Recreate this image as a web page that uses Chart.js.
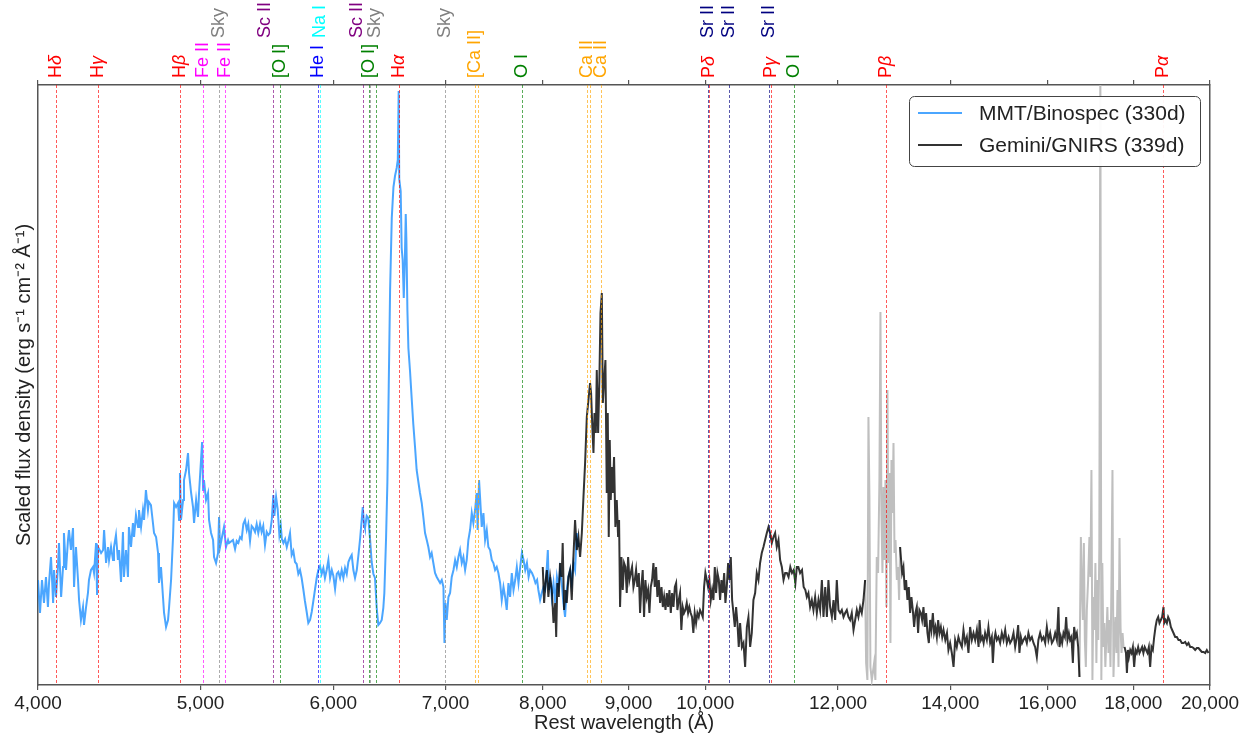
<!DOCTYPE html>
<html>
<head>
<meta charset="utf-8">
<title>Spectrum 330d / 339d</title>
<script src="https://cdn.jsdelivr.net/npm/chart.js"></script>
<style>
  body { margin: 0; background: #fff; }
  canvas { display: block; }
</style>
</head>
<body>
<canvas id="chart" width="1253" height="742"></canvas>
<script>
// MMT/Binospec (330d), rest wavelength in A, scaled flux (arbitrary units)
var binospecWave = [
  4000,4011,4022,4033,4044,4055,4061,4072,4084,4089,
  4100,4111,4117,4129,4140,4145,4157,4168,4174,4185,
  4197,4203,4214,4226,4232,4243,4255,4261,4273,4284,
  4290,4302,4314,4320,4332,4338,4344,4362,4374,4380,
  4392,4404,4410,4422,4434,4440,4452,4464,4471,4483,
  4495,4501,4514,4526,4532,4545,4557,4564,4576,4589,
  4595,4608,4620,4627,4639,4652,4658,4671,4684,4691,
  4704,4717,4723,4736,4749,4756,4769,4782,4789,4802,
  4815,4822,4835,4848,4855,4861,4868,4882,4888,4902,
  4915,4922,4936,4949,4956,4970,4983,4990,5011,5018,
  5024,5038,5052,5059,5073,5087,5094,5108,5122,5129,
  5136,5150,5164,5178,5193,5200,5228,
  5243,5255,5267,5279,5291,5303,5315,5328,5339,5352,
  5364,5376,5389,5401,5413,5426,5438,5450,5463,5476,
  5488,5501,5514,5526,5534,5547,5559,5572,5583,5591,
  5603,5616,5629,5641,5654,5667,5680,5693,5706,5719,
  5732,5745,5758,5771,5785,5798,5812,5825,5838,5852,
  5865,5878,5892,5905,5919,5932,5946,5960,5974,5988,
  6001,6015,6029,6042,6056,6070,6084,6098,6112,6126,
  6140,6154,6168,6182,6197,6211,6225,6239,6248,6259,
  6267,6282,6296,6311,6325,6340,6354,6369,6383,6398,
  6413,6427,6436,6451,6463,6475,6487,6502,6517,6531,
  6546,6556,6564,6569,6582,6591,6600,6610,6619,6628,
  6634,6643,6652,6667,6682,6697,6713,6728,6744,6759,
  6775,6790,6806,6822,6837,6853,6868,6884,6900,6916,
  6932,6948,6964,6980,6990,6999,7012,7028,7044,7060,
  7077,7093,7109,7125,7141,7158,7174,7191,7207,7223,
  7240,7257,7273,7290,7306,7316,7330,7340,7357,7374,
  7391,7408,7424,7442,7459,7476,7493,7510,7527,7545,
  7562,7580,7597,7614,7632,7649,7667,7685,7703,7720,
  7738,7756,7774,7792,7810,7828,7846,7862,7883,7901,
  7920,7938,7952,7971,7989,8008,8026,8045,8056,8067,
  8082,8100,8119,8138,8157,8174,8192,8211,8230,8249,
  8268,8287,8306,8325,8344,8363,8383,8402
];
var binospecFlux = [
  1.05,0.72,1.05,0.82,1.08,0.78,1.02,1.28,0.82,1.15,
  0.88,1.18,1.42,0.88,1.18,1.52,1.15,1.45,1.55,1.35,
  1.57,0.98,1.38,1.05,0.85,0.65,0.78,0.60,0.78,0.92,
  1.05,1.15,1.18,1.12,1.42,0.90,1.38,1.32,1.35,1.55,
  1.22,1.38,1.25,1.38,1.25,1.38,1.50,1.25,1.35,1.03,
  1.53,1.08,1.35,1.08,1.58,1.38,1.62,1.48,1.70,1.58,
  1.75,1.58,1.75,1.65,1.95,1.75,1.83,1.80,1.62,1.52,
  1.48,1.32,1.02,1.18,0.88,0.72,0.58,0.65,0.78,1.05,
  1.48,1.82,1.78,1.82,1.65,2.12,1.65,1.85,2.05,2.15,
  2.32,2.12,1.92,1.78,1.62,1.85,1.68,1.92,2.43,1.95,
  2.05,1.85,1.92,1.65,1.52,1.45,1.28,1.22,1.32,1.68,
  1.38,1.48,1.58,1.38,1.45,1.42,1.45,
  1.36,1.44,1.42,1.48,1.46,1.61,1.65,1.55,1.61,1.44,
  1.59,1.57,1.53,1.61,1.52,1.61,1.53,1.59,1.40,1.53,
  1.50,1.52,1.65,1.90,1.69,1.88,1.76,1.50,1.59,1.46,
  1.42,1.46,1.38,1.44,1.52,1.30,1.34,1.23,1.21,1.11,
  1.15,1.07,0.96,0.84,0.73,0.62,0.65,0.73,0.84,0.96,
  1.07,1.15,1.19,1.11,1.17,1.07,1.15,1.25,1.07,1.15,
  1.09,0.96,1.11,1.13,1.07,1.15,1.07,1.17,1.11,1.23,
  1.27,1.30,1.15,1.07,1.15,1.30,1.46,1.65,1.78,1.61,
  1.57,1.69,1.67,1.46,1.23,1.11,1.07,0.77,0.60,0.62,
  0.65,0.77,0.92,1.46,2.03,2.99,3.95,4.67,4.98,5.09,
  5.17,5.25,5.94,5.06,4.94,4.37,4.25,3.87,4.21,4.71,
  4.44,3.75,3.37,3.14,2.87,2.61,2.38,2.15,2.03,1.92,
  1.82,1.68,1.52,1.45,1.38,1.28,1.32,1.22,1.12,1.08,
  1.05,1.02,1.05,0.98,0.42,0.82,0.65,0.88,0.92,1.08,
  1.15,1.25,1.18,1.28,1.35,1.22,1.28,1.15,1.25,1.45,
  1.55,1.72,1.62,1.75,1.92,1.55,2.05,1.88,1.58,1.72,
  1.45,1.55,1.38,1.35,1.25,1.22,1.15,1.18,1.12,1.02,
  0.85,0.98,0.88,0.75,1.02,0.88,1.12,0.95,1.05,1.18,
  1.02,1.18,1.32,1.25,1.15,1.22,1.08,1.15,1.12,1.08,
  1.02,1.05,0.95,0.85,0.92,0.98,0.95,1.18,1.35,0.95,
  1.08,0.88,1.02,0.82,1.08,0.98,1.15,1.02,0.82,0.68,
  0.95,1.08,1.15,1.02,1.22,1.15,1.52,1.38
];

// Gemini/GNIRS (339d); null marks the telluric gaps shown in grey
var gnirsWave = [
  8000,8015,8029,8045,8062,8082,8100,8119,8138,8149,
  8162,8178,8192,8211,8222,8238,8253,8268,8287,8306,
  8325,8344,8363,8383,8402,8421,8441,8460,8479,8499,
  8518,8537,
  8549,8565,8577,8589,8605,8616,8632,8647,8660,8676,
  8688,8704,8719,8735,8747,8759,8771,8783,8795,8807,
  8823,8839,8856,8872,8884,8896,8913,8929,8945,8962,
  8978,8995,9011,9028,9044,9061,9078,9094,9110,9128,
  9144,9160,9177,9194,9211,9228,9245,9262,9279,9296,
  9313,9330,9347,9364,9382,9399,9417,9434,9451,9469,
  9486,9503,9520,9538,9555,9573,9591,9608,9625,9643,
  9660,9677,9695,9713,9731,9749,9767,9784,9802,9820,
  9838,9856,9875,9893,9911,9929,9947,9966,9984,10002,
  10021,10039,10057,10076,10095,10113,10132,10150,10169,10188,
  10206,10225,10244,10263,10281,10300,10319,10338,10357,10376,
  10395,10414,10433,10452,10471,
  10490,10516,10539,10563,10588,10611,10636,10660,10684,10709,
  10733,10758,10782,10807,10832,10857,10882,10907,10931,10957,
  10982,11007,11032,11058,11083,11109,11135,11160,11186,11212,
  11239,11265,11291,11318,11340,11364,11391,11421,11447,11474,
  11497,11522,11549,11576,11602,11629,11656,11682,11709,11737,
  11763,11791,11818,11843,11870,11899,11926,11953,11980,12007,
  12035,12063,12091,12118,12146,12173,12201,12229,12258,12286,
  12314,12341,12370,12398,12427,12455,
  12760,
  13068,13104,13128,13152,13176,13200,13225,13249,13273,13298,
  13322,13346,13371,13395,13419,13445,13469,13494,13519,13543,
  13568,13594,13618,13643,13669,13693,13718,13744,13769,13794,
  13820,13846,13871,13905,13937,13965,13997,
  14030,14063,14094,14126,14158,14191,14224,14256,14289,14322,
  14354,14387,14421,14454,14487,14521,14555,14575,14603,14630,
  14656,14686,14721,14753,14788,14822,14843,14870,14896,14924,
  14957,14992,15027,15062,15097,15131,15167,15200,15235,15270,
  15305,15340,15368,15395,15425,15452,15480,15516,15552,15586,
  15623,15660,15695,15731,15767,15801,15839,15876,15912,15949,
  15985,16021,16058,16096,16133,16169,16207,16242,16265,16296,
  16325,16355,16386,16415,16445,16476,16505,16535,16567,16596,
  16626,16657,16688,16718,
  17250,
  17786,17820,17844,17869,17893,17925,17957,17990,18022,18055,
  18087,18121,18154,18187,18220,18252,18285,18320,18354,18389,
  18422,18456,18490,18524,18558,18591,18626,18659,18694,18728,
  18763,18780,18814,18850,18883,18917,18953,18987,19022,19066,
  19110,19153,19197,19241,19285,19329,19375,19418,19463,19507,
  19551,19597,19642,19686,19731,19777,19822,19868,19913,19958
];
var gnirsFlux = [
  1.18,0.82,1.02,1.15,0.88,1.08,0.95,0.62,0.82,0.48,
  1.02,0.88,1.22,1.08,1.42,0.75,0.95,0.82,1.08,1.15,
  0.85,1.28,1.65,1.35,1.48,1.28,1.52,1.88,2.22,2.68,
  2.85,3.02,
  2.92,2.55,2.32,2.72,2.52,3.15,2.52,3.05,3.72,3.92,
  2.82,3.05,3.25,1.92,2.72,1.48,2.45,1.85,2.18,1.92,
  2.28,1.58,1.85,1.48,1.65,0.78,1.28,0.95,1.22,1.18,
  0.92,1.28,1.05,1.12,1.18,0.98,1.05,1.15,0.98,1.12,
  0.72,0.98,1.15,0.68,1.05,0.88,0.95,0.72,0.98,1.05,
  1.22,0.98,1.18,0.88,1.05,0.82,0.98,0.78,0.88,0.75,
  0.92,0.78,0.95,0.72,0.92,0.78,0.98,1.02,0.75,0.85,
  0.92,0.55,0.78,0.72,0.75,0.82,0.72,0.78,0.72,0.68,
  0.52,0.72,0.62,0.72,0.68,0.75,0.72,0.68,0.98,1.12,
  1.05,0.98,1.05,0.85,0.95,0.85,1.18,0.92,1.12,1.05,
  0.85,1.05,0.92,1.12,0.82,0.98,1.22,1.05,1.28,0.85,
  0.72,0.58,0.78,0.62,0.38,
  0.62,0.38,0.42,0.18,0.58,0.68,0.38,0.52,0.85,0.92,
  1.12,1.05,1.22,1.32,1.38,1.45,1.52,1.58,1.52,1.42,
  1.48,1.52,1.38,1.45,1.25,1.18,1.05,1.12,1.12,1.08,
  1.18,1.12,1.15,1.02,1.18,1.18,1.12,1.15,0.98,0.95,
  0.88,0.92,0.78,0.85,0.75,0.88,0.72,0.85,0.75,1.05,
  0.68,0.98,0.68,1.05,0.78,0.68,0.85,0.65,1.05,0.75,
  0.72,0.75,0.68,0.72,0.75,0.68,0.65,0.72,0.55,0.65,
  0.75,0.68,0.78,0.72,0.85,1.05,
  null,
  1.38,1.12,1.18,0.95,1.05,0.85,0.98,0.72,0.88,0.75,
  0.58,0.72,0.78,0.52,0.75,0.72,0.65,0.78,0.58,0.72,
  0.52,0.42,0.65,0.55,0.72,0.52,0.58,0.48,0.65,0.52,
  0.58,0.48,0.55,0.45,0.52,0.35,0.42,
  0.32,0.18,0.45,0.38,0.48,0.42,0.38,0.55,0.42,0.48,
  0.32,0.58,0.45,0.52,0.45,0.55,0.38,0.65,0.45,0.48,
  0.42,0.52,0.45,0.58,0.42,0.48,0.22,0.45,0.52,0.45,
  0.48,0.42,0.52,0.45,0.55,0.42,0.48,0.42,0.45,0.52,
  0.38,0.48,0.60,0.32,0.48,0.42,0.45,0.48,0.42,0.52,
  0.45,0.48,0.42,0.38,0.28,0.45,0.52,0.45,0.48,0.42,
  0.58,0.45,0.52,0.42,0.45,0.52,0.45,0.78,0.38,0.48,
  0.42,0.52,0.48,0.68,0.45,0.52,0.45,0.48,0.22,0.58,
  0.48,0.52,0.38,0.08,
  null,
  0.38,0.32,0.12,0.35,0.28,0.35,0.32,0.38,0.18,0.35,
  0.32,0.38,0.32,0.35,0.38,0.32,0.38,0.35,0.32,0.38,
  0.18,0.38,0.35,0.48,0.58,0.65,0.68,0.62,0.65,0.68,
  0.78,0.62,0.65,0.62,0.68,0.65,0.58,0.55,0.52,0.48,
  0.48,0.45,0.45,0.42,0.42,0.43,0.40,0.42,0.38,0.38,
  0.37,0.35,0.37,0.37,0.35,0.33,0.33,0.32,0.35,0.32
];

// GNIRS points inside strong telluric bands (drawn grey)
var telluricWave = [
  12455,12472,12494,12512,12529,12546,12570,12587,12610,12632,
  12656,12679,12702,12720,12737,12755,12772,12790,12808,12825,
  12843,12861,12878,12896,12914,12932,12950,12968,12986,13010,
  13032,13050,13068,
  15000,
  16718,16750,16773,16796,16819,16842,16865,16888,16918,16948,
  16971,16995,17018,17041,17064,17088,17111,17135,17156,17180,
  17204,17228,17251,17275,17299,17323,17347,17371,17397,17421,
  17445,17469,17493,17517,17541,17565,17590,17614,17638,17663,
  17688,17712,17737,17761,17786
];
var telluricFlux = [
  1.05,0.22,0.05,2.68,1.88,0.18,0.05,0.12,0.22,0.05,
  1.28,1.12,2.05,3.73,1.72,1.12,1.98,1.25,2.05,0.78,
  2.95,1.22,2.12,0.42,2.25,1.72,2.42,1.32,1.45,1.05,
  1.18,0.85,1.38,
  null,
  0.08,1.48,0.98,0.65,1.42,0.45,0.18,0.75,1.05,1.48,
  1.08,2.15,0.05,0.88,0.55,1.22,0.22,1.05,0.45,1.38,
  6.30,0.05,1.22,0.38,0.62,0.18,0.48,0.78,0.32,0.65,
  0.18,1.05,2.15,0.08,0.45,0.68,0.32,0.95,0.18,1.47,
  0.58,0.32,0.52,0.38,0.38
];

var tickValues = [4000,5000,6000,7000,8000,9000,10000,12000,14000,16000,18000,20000];

// line identifications
var lineWaves  = [4102,4341,4861,5018,5129,5169,5527,5577,5876,5892,6246,6300,6310,6364,6563,6995,7291,7324,7774,8498,8542,8662,10037,10049,10327,10915,10938,11290,12818,18751];
var lineLabels = ['Hδ','Hγ','Hβ','Fe II','Sky','Fe II','Sc II','[O I]','He I','Na I','Sc II','[O I]','Sky','','Hα','Sky','[Ca II]','','O I','Ca II','','Ca II','Sr II','Pδ','Sr II','Sr II','Pγ','O I','Pβ','Pα'];
var lineColors = ['red','red','red','magenta','gray','magenta','purple','green','blue','cyan','purple','green','gray','green','red','gray','orange','orange','green','orange','orange','orange','navy','red','navy','navy','red','green','red','red'];
var lineRows   = [0,0,0,0,1,0,1,0,0,1,1,0,1,0,0,1,0,0,0,0,0,0,1,0,1,1,0,0,0,0];
var labelWaves = [null,null,null,null,null,null,5463,null,null,null,6199,null,6354,null,null,null,null,null,null,null,null,null,null,null,null,null,null,null,null,null];

var FONT = "'Liberation Sans', Arial, Helvetica, sans-serif";
var INK = '#222';
var SPINE = '#555';

function pairs(w, f) {
    return w.map(function (x, i) { return {x: x, y: f[i]}; });
}

// dashed identification lines + rotated labels above the frame
var markerPlugin = {
    id: 'markers',
    afterDatasetsDraw: function (chart) {
        var ctx = chart.ctx, xs = chart.scales.x, area = chart.chartArea;
        ctx.save();
        ctx.lineWidth = 1;
        ctx.setLineDash([3, 2]);
        ctx.globalAlpha = 0.65;
        for (var i = 0; i < lineWaves.length; i++) {
            var px = Math.round(xs.getPixelForValue(lineWaves[i])) + 0.5;
            ctx.strokeStyle = lineColors[i];
            ctx.beginPath();
            ctx.moveTo(px, area.top);
            ctx.lineTo(px, area.bottom);
            ctx.stroke();
        }
        ctx.globalAlpha = 1;
        ctx.setLineDash([]);
        ctx.textAlign = 'left';
        ctx.textBaseline = 'middle';
        for (var j = 0; j < lineWaves.length; j++) {
            var txt = lineLabels[j];
            if (!txt) continue;
            var wl = labelWaves[j] || lineWaves[j];
            var lx = xs.getPixelForValue(wl);
            var ly = lineRows[j] === 0 ? area.top - 7 : area.top - 47;
            ctx.save();
            ctx.translate(lx, ly);
            ctx.rotate(-Math.PI / 2);
            ctx.fillStyle = lineColors[j];
            var greek = /[α-ω]$/.test(txt) ? txt.slice(-1) : '';
            var main = greek ? txt.slice(0, -1) : txt;
            ctx.font = '18px ' + FONT;
            ctx.fillText(main, 0, 0);
            if (greek) {
                var w = ctx.measureText(main).width;
                ctx.font = 'italic 18px ' + FONT;
                ctx.fillText(greek, w, 0);
            }
            ctx.restore();
        }
        ctx.restore();
    }
};

// framed legend in the upper right corner
var legendPlugin = {
    id: 'boxLegend',
    afterDraw: function (chart) {
        var ctx = chart.ctx, area = chart.chartArea;
        var x0 = area.right - 301, y0 = area.top + 11, w = 291, h = 70;
        ctx.save();
        ctx.beginPath();
        ctx.roundRect(x0 + 0.5, y0 + 0.5, w, h, 5);
        ctx.fillStyle = 'rgba(255,255,255,0.95)';
        ctx.fill();
        ctx.strokeStyle = '#444';
        ctx.lineWidth = 1;
        ctx.stroke();
        var items = [chart.data.datasets[0], chart.data.datasets[1]];
        ctx.font = '21px ' + FONT;
        ctx.textBaseline = 'middle';
        items.forEach(function (ds, k) {
            var yy = y0 + 17 + k * 32;
            ctx.strokeStyle = ds.borderColor;
            ctx.lineWidth = 2;
            ctx.beginPath();
            ctx.moveTo(x0 + 9, yy);
            ctx.lineTo(x0 + 53, yy);
            ctx.stroke();
            ctx.fillStyle = INK;
            ctx.fillText(ds.label, x0 + 70, yy + 1);
        });
        ctx.restore();
    }
};

function fixTicks(axis) {
    axis.ticks = tickValues.map(function (v) { return {value: v}; });
}

var chart = new Chart(document.getElementById('chart'), {
    type: 'scatter',
    data: {
        datasets: [
            {
                label: 'MMT/Binospec (330d)',
                data: pairs(binospecWave, binospecFlux),
                borderColor: 'rgba(30,144,255,0.8)',
                borderWidth: 2,
                showLine: true,
                pointRadius: 0,
                order: 3
            },
            {
                label: 'Gemini/GNIRS (339d)',
                data: pairs(gnirsWave, gnirsFlux),
                borderColor: 'rgba(0,0,0,0.8)',
                borderWidth: 2,
                showLine: true,
                spanGaps: false,
                pointRadius: 0,
                order: 1
            },
            {
                label: 'telluric',
                data: pairs(telluricWave, telluricFlux),
                borderColor: '#bfbfbf',
                borderWidth: 2,
                showLine: true,
                spanGaps: false,
                pointRadius: 0,
                order: 2
            }
        ]
    },
    options: {
        responsive: false,
        animation: false,
        events: [],
        layout: {padding: {left: 0, right: 43, top: 0, bottom: 0}},
        plugins: {legend: {display: false}, tooltip: {enabled: false}},
        scales: {
            x: {
                type: 'logarithmic',
                position: 'bottom',
                min: 4000,
                max: 20000,
                afterBuildTicks: fixTicks,
                afterFit: function (axis) { axis.height = 57; },
                ticks: {
                    autoSkip: false,
                    maxRotation: 0,
                    padding: 2,
                    color: INK,
                    font: {family: FONT, size: 19},
                    callback: function (v) { return Number(v).toLocaleString('en-US'); }
                },
                grid: {drawOnChartArea: false, tickLength: 5, color: SPINE, lineWidth: 1.2},
                border: {color: SPINE, width: 1.5},
                title: {
                    display: true,
                    text: 'Rest wavelength (Å)',
                    color: INK,
                    font: {family: FONT, size: 20},
                    padding: {top: 0, bottom: 7}
                }
            },
            x2: {
                type: 'logarithmic',
                position: 'top',
                min: 4000,
                max: 20000,
                afterBuildTicks: fixTicks,
                afterFit: function (axis) { axis.height = 85; },
                ticks: {display: false},
                grid: {drawOnChartArea: false, tickLength: 5, color: SPINE, lineWidth: 1.2},
                border: {color: SPINE, width: 1.5}
            },
            y: {
                type: 'linear',
                position: 'left',
                min: 0,
                max: 6,
                afterFit: function (axis) { axis.width = 38; },
                ticks: {display: false},
                grid: {display: false},
                border: {color: SPINE, width: 1.5},
                title: {
                    display: true,
                    text: 'Scaled flux density (erg s⁻¹ cm⁻² Å⁻¹)',
                    color: INK,
                    font: {family: FONT, size: 20},
                    padding: {top: 12, bottom: 0}
                }
            },
            y2: {
                type: 'linear',
                position: 'right',
                min: 0,
                max: 6,
                afterFit: function (axis) { axis.width = 0; },
                ticks: {display: false},
                grid: {display: false},
                border: {color: SPINE, width: 1.5}
            }
        }
    },
    plugins: [markerPlugin, legendPlugin]
});
</script>
</body>
</html>
